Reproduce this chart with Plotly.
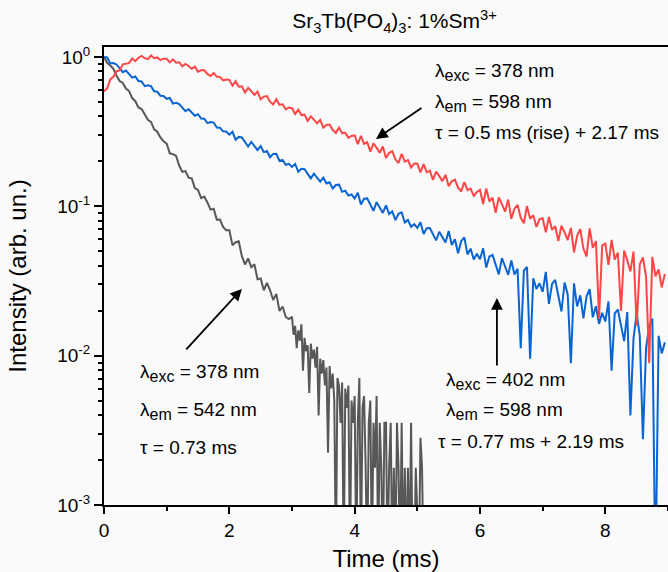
import plotly.graph_objects as go

# ---- data ----
# time channels, ms (uniform 0.05 ms sampling grid)
time_ms = [round(0.05 * i, 2) for i in range(180)]
# the gray trace is read more finely in its noisy tail (0.025 ms from 3 ms on)
gray_time_ms = [round(0.05 * i, 3) for i in range(60)] + [round(3.0 + 0.025 * i, 3) for i in range(85)]

# log10 of normalised intensity
red_log10 = [
    -0.23, -0.21, -0.15, -0.133, -0.095, -0.09, -0.049, -0.043, -0.041, -0.010,
    -0.028, -0.005, 0.007, -0.008, -0.014, 0.011, -0.008, -0.003, -0.021, -0.011,
    -0.012, -0.036, -0.016, -0.038, -0.035, -0.062, -0.046, -0.060, -0.078, -0.065,
    -0.099, -0.089, -0.089, -0.114, -0.127, -0.107, -0.132, -0.133, -0.157, -0.151,
    -0.153, -0.192, -0.162, -0.199, -0.196, -0.238, -0.207, -0.229, -0.254, -0.231,
    -0.283, -0.265, -0.262, -0.299, -0.318, -0.283, -0.320, -0.317, -0.351, -0.338,
    -0.343, -0.382, -0.352, -0.389, -0.386, -0.428, -0.397, -0.419, -0.444, -0.421,
    -0.473, -0.455, -0.452, -0.489, -0.508, -0.473, -0.510, -0.507, -0.541, -0.528,
    -0.525, -0.583, -0.528, -0.582, -0.571, -0.633, -0.578, -0.608, -0.641, -0.599,
    -0.676, -0.642, -0.631, -0.685, -0.710, -0.648, -0.701, -0.691, -0.740, -0.714,
    -0.715, -0.773, -0.718, -0.772, -0.761, -0.823, -0.768, -0.798, -0.831, -0.789,
    -0.866, -0.832, -0.821, -0.875, -0.900, -0.838, -0.891, -0.881, -0.930, -0.904,
    -0.890, -0.984, -0.881, -0.968, -0.942, -1.043, -0.940, -0.985, -1.036, -0.955,
    -1.083, -1.016, -0.990, -1.077, -1.114, -0.998, -1.084, -1.059, -1.138, -1.085,
    -1.080, -1.174, -1.071, -1.158, -1.132, -1.233, -1.130, -1.175, -1.226, -1.145,
    -1.309, -1.198, -1.152, -1.283, -1.336, -1.148, -1.278, -1.233, -1.75, -1.263,
    -1.250, -1.392, -1.225, -1.356, -1.310, -1.70, -1.296, -1.361, -1.436, -1.303,
    -1.80, -1.388, -1.342, -1.473, -2.05, -1.338, -1.468, -1.423, -1.542, -1.453,
]

blue_log10 = [
    0.0, -0.003, -0.043, -0.040, -0.050, -0.077, -0.102, -0.091, -0.114, -0.138,
    -0.130, -0.161, -0.164, -0.195, -0.189, -0.195, -0.230, -0.233, -0.259, -0.261,
    -0.280, -0.274, -0.312, -0.307, -0.315, -0.339, -0.363, -0.350, -0.371, -0.393,
    -0.383, -0.412, -0.413, -0.443, -0.435, -0.439, -0.472, -0.473, -0.498, -0.499,
    -0.520, -0.501, -0.554, -0.535, -0.539, -0.570, -0.600, -0.569, -0.595, -0.623,
    -0.597, -0.637, -0.630, -0.671, -0.649, -0.648, -0.696, -0.689, -0.722, -0.715,
    -0.736, -0.716, -0.769, -0.749, -0.752, -0.783, -0.813, -0.781, -0.806, -0.834,
    -0.807, -0.847, -0.839, -0.880, -0.857, -0.855, -0.903, -0.895, -0.928, -0.921,
    -0.947, -0.909, -0.987, -0.949, -0.947, -0.989, -1.030, -0.972, -1.006, -1.044,
    -0.994, -1.052, -1.034, -1.092, -1.050, -1.040, -1.109, -1.091, -1.137, -1.119,
    -1.145, -1.107, -1.185, -1.147, -1.145, -1.187, -1.228, -1.170, -1.204, -1.242,
    -1.165, -1.259, -1.220, -1.314, -1.233, -1.208, -1.322, -1.283, -1.356, -1.317,
    -1.355, -1.281, -1.410, -1.336, -1.325, -1.391, -1.456, -1.347, -1.399, -1.458,
    -1.363, -1.457, -1.418, -1.95, -1.431, -1.406, -2.02, -1.481, -1.554, -1.515,
    -1.573, -1.439, -1.653, -1.519, -1.493, -1.599, -1.704, -1.510, -1.592, -2.05,
    -1.516, -1.670, -1.596, -1.750, -1.604, -1.554, -1.743, -1.669, -1.787, -1.713,
    -1.771, -1.637, -2.10, -1.717, -1.691, -1.797, -1.902, -1.708, -2.40, -1.884,
    -1.714, -1.868, -2.56, -1.948, -1.802, -1.752, -3.5, -1.867, -1.985, -1.911,
]

gray_log10 = [
    0.0, -0.039, -0.057, -0.079, -0.125, -0.161, -0.174, -0.211, -0.228, -0.275,
    -0.296, -0.338, -0.349, -0.383, -0.421, -0.434, -0.484, -0.500, -0.539, -0.565,
    -0.580, -0.645, -0.650, -0.662, -0.727, -0.769, -0.764, -0.808, -0.813, -0.878,
    -0.890, -0.945, -0.935, -0.974, -1.022, -1.016, -1.089, -1.088, -1.138, -1.160,
    -1.160, -1.260, -1.240, -1.234, -1.334, -1.389, -1.349, -1.408, -1.388, -1.488,
    -1.483, -1.562, -1.512, -1.562, -1.627, -1.586, -1.701, -1.671, -1.741, -1.755,
    # tail, 0.025 ms steps from 3.0 ms
    -1.74, -1.86, -1.80, -1.95, -1.83, -1.90, -1.79, -2.10, -1.88, -1.97,
    -1.93, -2.25, -1.92, -2.02, -1.96, -2.08, -1.94, -2.40, -2.02, -2.12,
    -2.03, -2.20, -2.08, -2.65, -2.07, -2.22, -2.12, -2.30, -3.4, -2.15,
    -2.20, -2.45, -2.18, -3.4, -2.22, -2.35, -2.20, -3.4, -2.30, -2.45,
    -2.27, -3.4, -2.45, -2.15, -3.4, -2.35, -2.27, -2.75, -3.4, -2.45,
    -2.30, -3.4, -2.45, -2.75, -2.27, -3.4, -2.45, -2.75, -3.4, -2.45,
    -2.45, -3.4, -2.75, -2.45, -3.4, -2.75, -3.4, -2.45, -2.75, -3.4,
    -2.45, -3.4, -2.75, -3.4, -2.75, -3.4, -2.45, -3.4, -3.4, -2.75,
    -3.4, -3.4, -2.55, -2.75, -3.4,
]

y_tick_vals = [0.001, 0.01, 0.1, 1]
y_tick_text = ["10<sup>-3</sup>", "10<sup>-2</sup>", "10<sup>-1</sup>", "10<sup>0</sup>"]
x_tick_vals = [0, 2, 4, 6, 8]

FONT = "Liberation Sans, Arial, sans-serif"

fig = go.Figure()
series = [
    (gray_time_ms, gray_log10, "#585858"),
    (time_ms, blue_log10, "#0a64d2"),
    (time_ms, red_log10, "#ff4646"),
]
for tx, vals, col in series:
    fig.add_trace(go.Scatter(
        x=tx[:len(vals)],
        y=[10 ** v for v in vals],
        mode="lines",
        line=dict(color=col, width=2),
        showlegend=False,
        hoverinfo="skip",
    ))

txt = dict(size=19, color="black", family=FONT)

def sub(s):
    return "<sub><span style='font-size:16px'>" + s + "</span></sub>"

def label(x, y, text):
    fig.add_annotation(x=x, y=y, xref="x", yref="y", text=text, showarrow=False,
                       xanchor="left", yanchor="middle", font=txt)

def arrow(x, y, ax, ay):
    fig.add_annotation(x=x, y=y, xref="x", yref="y", ax=ax, ay=ay, text="",
                       showarrow=True, arrowhead=2, arrowsize=1.3, arrowwidth=1.8,
                       arrowcolor="black")

# red (rise) curve annotation
label(5.25, -0.100, "λ" + sub("exc") + " = 378 nm")
label(5.25, -0.307, "λ" + sub("em") + " = 598 nm")
label(5.25, -0.508, "τ = 0.5 ms (rise) + 2.17 ms")
arrow(4.34, -0.549, 47, -32)

# blue curve annotation
label(5.42, -2.169, "λ" + sub("exc") + " = 402 nm")
label(5.42, -2.370, "λ" + sub("em") + " = 598 nm")
label(5.30, -2.578, "τ = 0.77 ms + 2.19 ms")
arrow(6.27, -1.614, 0, 69)

# gray curve annotation
label(0.54, -2.116, "λ" + sub("exc") + " = 378 nm")
label(0.54, -2.370, "λ" + sub("em") + " = 542 nm")
label(0.54, -2.612, "τ = 0.73 ms")
arrow(2.20, -1.553, -57, 62)

fig.update_layout(
    width=668, height=572,
    margin=dict(l=104, r=0, t=47, b=67, autoexpand=False),
    paper_bgcolor="#fafafa", plot_bgcolor="#fafafa",
    font=dict(family=FONT, color="black"),
    title=dict(text="Sr<sub>3</sub>Tb(PO<sub>4</sub>)<sub>3</sub>: 1%Sm<sup>3+</sup>",
               x=0.515, xref="paper", xanchor="center",
               y=1 - 21 / 572, yref="container", yanchor="middle",
               font=dict(size=21, family=FONT, color="black")),
    xaxis=dict(
        range=[0, 9], tickvals=x_tick_vals, ticks="outside", ticklen=7, tickwidth=1.5,
        tickcolor="black", showline=True, linewidth=2, linecolor="black", mirror=True,
        showgrid=False, zeroline=False, tickfont=dict(size=19), automargin=False,
        title=dict(text="Time (ms)", font=dict(size=24), standoff=10),
        minor=dict(dtick=1, ticks="outside", ticklen=4, tickwidth=1.5,
                   tickcolor="black", showgrid=False),
    ),
    yaxis=dict(
        type="log", range=[-3, 0.067], tickvals=y_tick_vals, ticktext=y_tick_text,
        ticks="outside", ticklen=8, tickwidth=1.5, tickcolor="black",
        showline=True, linewidth=2, linecolor="black", mirror=False,
        showgrid=False, zeroline=False, tickfont=dict(size=19), automargin=False,
        title=dict(text="Intensity (arb. un.)", font=dict(size=24), standoff=24),
        minor=dict(ticks="outside", ticklen=4, tickwidth=1.5, tickcolor="black",
                   dtick="D1", showgrid=False),
    ),
)

fig.write_html("out.html", config={"displayModeBar": False},
               post_script="document.body.style.margin='0';document.body.style.background='#fafafa';")
